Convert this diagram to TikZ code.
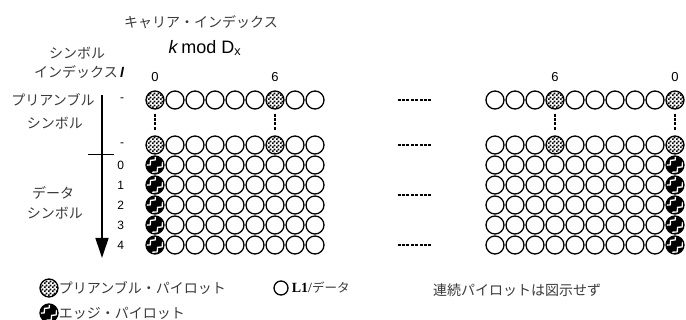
\documentclass[tikz,border=0pt]{standalone}
\usepackage{fontspec}
\setmainfont{Liberation Serif}
\setsansfont{Liberation Sans}
\newfontfamily\jpfont{Noto Sans CJK JP}
\usetikzlibrary{
  arrows.meta,
  positioning,
  patterns,
  calc,
  decorations.pathmorphing
}
\definecolor{dvText}{HTML}{3A3A3A}
\pgfdeclarepatternformonly{finechecker}{\pgfpointorigin}{\pgfqpoint{4pt}{4pt}}{\pgfqpoint{4pt}{4pt}}{
  \pgfpathrectangle{\pgfpointorigin}{\pgfqpoint{2pt}{2pt}}
  \pgfpathrectangle{\pgfqpoint{2pt}{2pt}}{\pgfqpoint{2pt}{2pt}}
  \pgfusepath{fill}
}
\tikzset{
  dvjp/.style={font=\jpfont\fontsize{14}{16}\selectfont, text=dvText, inner sep=0pt},
  dvnum/.style={font=\sffamily\fontsize{12}{14}\selectfont, inner sep=0pt},
  dvtop/.style={font=\sffamily\fontsize{13}{15}\selectfont, inner sep=0pt},
  carrier/.style={circle, draw, line width=1.3pt, minimum size=18pt, inner sep=0pt},
  sppilot/.style={carrier, pattern=finechecker},
  edgepilot/.style={carrier, fill=black, path picture={
      \foreach \d in {-3.5,3.5}
        \draw[white, line width=1.3pt, line join=round, decorate,
              decoration={zigzag, segment length=7pt, amplitude=1.6pt}]
          ($(path picture bounding box.center)+(-11+\d,11+\d)$) --
          ($(path picture bounding box.center)+(11+\d,-11+\d)$);
  }},
  gapdots/.style={line width=2.4pt, dash pattern=on 3pt off 1.4pt},
  symaxis/.style={line width=1.3pt, -{Triangle[length=20pt, width=13pt]}},
}

\begin{document}
\begin{tikzpicture}[x=1pt, y=-1pt]
  \useasboundingbox (0,0) rectangle (686,320);
  % left grid: carriers 0..8
  \foreach \r/\y/\pk/\pc in {p1/100/sppilot/6, p2/145/sppilot/6, d0/165/edgepilot/0,
      d1/185/edgepilot/0, d2/205/edgepilot/0, d3/225/edgepilot/0, d4/245/edgepilot/0}
    \foreach \c in {0,...,8} {
      \ifnum\c=0 \edef\st{\pk}\else\ifnum\c=\pc \edef\st{\pk}\else\edef\st{carrier}\fi\fi
      \node[\st] (L\r-\c) at ({155+20*\c},\y) {};
    }
  % right grid: last carriers
  \foreach \r/\y/\pk/\pc in {p1/100/sppilot/3, p2/145/sppilot/3, d0/165/edgepilot/9,
      d1/185/edgepilot/9, d2/205/edgepilot/9, d3/225/edgepilot/9, d4/245/edgepilot/9}
    \foreach \c in {0,...,9} {
      \ifnum\c=9 \edef\st{\pk}\else\ifnum\c=\pc \edef\st{\pk}\else\edef\st{carrier}\fi\fi
      \node[\st] (R\r-\c) at ({495+20*\c},\y) {};
    }

  \foreach \g/\c in {L/0, L/6, R/3, R/9}
    \draw[gapdots, shorten <=4pt, shorten >=5pt] (\g p1-\c.south) -- (\g p2-\c.north);
  \foreach \r in {p1, p2, d4}
    \draw[gapdots, shorten <=73pt, shorten >=53pt] (L\r-8.east) -- (R\r-0.west);
  \draw[gapdots, shorten <=73pt, shorten >=53pt]
    ($(Ld1-8.east)!.5!(Ld2-8.east)$) -- ($(Rd1-0.west)!.5!(Rd2-0.west)$);

  \node[dvtop, above=9pt of Lp1-0] {0};
  \node[dvtop, above=9pt of Lp1-6] {6};
  \node[dvtop, above=9pt of Rp1-3] {6};
  \node[dvtop, above=9pt of Rp1-9] {0};
  \node[dvnum, left=21pt of Lp1-0] {-};
  \node[dvnum, left=21pt of Lp2-0] {-};
  \foreach \i in {0,...,4}
    \node[dvnum, left=21pt of Ld\i-0] {\i};

  \coordinate (axtop) at (102,95);
  \coordinate (axbot) at (102,258);
  \coordinate (tickL) at (88,155);
  \coordinate (tickR) at (114,155);
  \draw[symaxis] (axtop) -- (axbot);
  \draw[line width=1pt] (tickL) -- (tickR);

  \node[dvjp] (citl) at (201,22) {キャリア・インデックス};
  \node[font=\sffamily\fontsize{18}{20}\selectfont, inner sep=0pt] (kmod) at (205,48)
    {\textit{k}\,mod D\textsubscript{x}};
  \node[dvjp] (sym1) at (77,53) {シンボル};
  \node[dvjp, anchor=east] (sym2) at (118,72) {インデックス};
  \node[font=\sffamily\bfseries\itshape\fontsize{14}{16}\selectfont, inner sep=0pt,
        right=2pt of sym2] (lsym) {l};
  \node[dvjp] (pre1) at (53,100) {プリアンブル};
  \node[dvjp] (pre2) at (55,123) {シンボル};
  \node[dvjp] (dat1) at (53,193) {データ};
  \node[dvjp] (dat2) at (55,213) {シンボル};

  \node[sppilot] (lgsp) at (49,288) {};
  \node[dvjp, right=0pt of lgsp] {プリアンブル・パイロット};
  \node[edgepilot] (lged) at (49,313) {};
  \node[dvjp, right=0pt of lged] {エッジ・パイロット};
  \node[carrier, minimum size=14pt] (lgdat) at (281,288) {};
  \node[inner sep=0pt, right=3pt of lgdat]
    {\fontsize{14}{16}\selectfont\textbf{L1}/{\jpfont\fontsize{12.5}{14}\selectfont\color{dvText}データ}};
  \node[dvjp] (cpnote) at (517,290) {連続パイロットは図示せず};
\end{tikzpicture}
\end{document}
